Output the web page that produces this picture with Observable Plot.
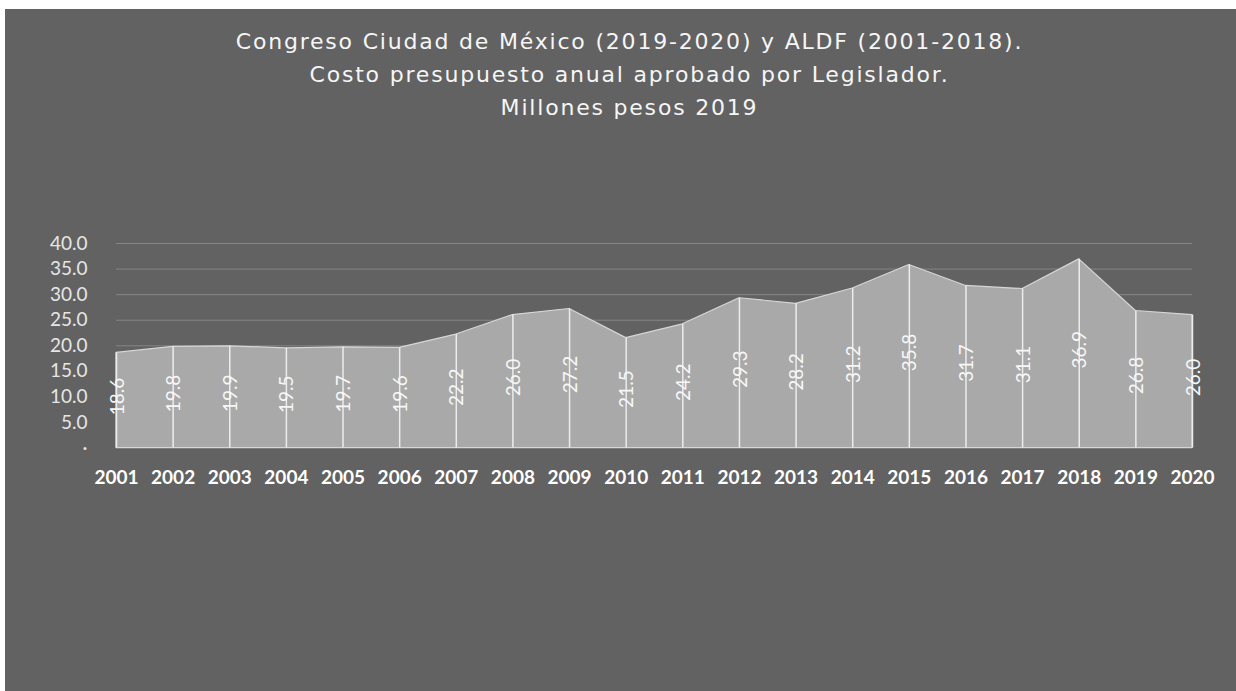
<!DOCTYPE html>
<html>
<head>
<meta charset="utf-8">
<script src="https://cdn.jsdelivr.net/npm/d3@7"></script>
<script src="https://cdn.jsdelivr.net/npm/@observablehq/plot@0.6"></script>
<style>
  html, body { margin: 0; padding: 0; background: #ffffff; width: 1236px; height: 691px; overflow: hidden; }
  #box { position: absolute; left: 5px; top: 9px; width: 1231px; height: 682px; background: #626262; }
  #title { position: absolute; left: 14px; top: 16px; width: 1221px; text-align: center;
    font-family: "DejaVu Sans", sans-serif; font-size: 22px; letter-spacing: 1.8px; line-height: 33px; color: #f6f6f6; font-weight: normal; }
  #chart { position: absolute; left: 0; top: 0; }
</style>
</head>
<body>
<div id="box">
  <div id="chart"></div>
  <div id="title">Congreso Ciudad de México (2019-2020) y ALDF (2001-2018).<br>Costo presupuesto anual aprobado por Legislador.<br>Millones pesos 2019</div>
</div>
<script>
const years = [2001,2002,2003,2004,2005,2006,2007,2008,2009,2010,2011,2012,2013,2014,2015,2016,2017,2018,2019,2020];
const values = [18.6,19.8,19.9,19.5,19.7,19.6,22.2,26.0,27.2,21.5,24.2,29.3,28.2,31.2,35.8,31.7,31.1,36.9,26.8,26.0];
const yTicks = [0,5,10,15,20,25,30,35,40];
const gridTicks = [5,10,15,20,25,30,35,40];

const data = years.map((year, i) => ({year, value: values[i]}));

const chart = Plot.plot({
  width: 1231,
  height: 682,
  marginLeft: 111,
  marginRight: 44,
  marginTop: 234,
  marginBottom: 243.4,
  style: {background: "transparent", fontFamily: "Lato, sans-serif"},
  x: {domain: [2001, 2020], axis: null},
  y: {domain: [0, 40], axis: null},
  marks: [
    Plot.gridY(gridTicks, {stroke: "#858585", strokeOpacity: 1, strokeWidth: 1}),
    Plot.areaY(data, {x: "year", y: "value", fill: "#a9a9a9", stroke: "#d6d6d6", strokeWidth: 1.2}),
    Plot.ruleX(data, {x: "year", y1: 0, y2: "value", stroke: "#ececec", strokeWidth: 1.5}),
    Plot.text(data, {x: "year", y: d => d.value / 2, text: d => d.value.toFixed(1), rotate: -90,
      fill: "#f7f7f7", fontSize: 19, dx: 1, dy: -4}),
    Plot.axisY({ticks: yTicks, tickSize: 0, tickPadding: 29, fontSize: 19, fill: "#e6e6e6", label: null,
      tickFormat: d => d === 0 ? "·" : d.toFixed(1)}),
    Plot.axisX({ticks: years, tickSize: 0, tickPadding: 22, fontSize: 19, fontWeight: "bold", label: null,
      fill: "#ffffff", tickFormat: d => String(d)})
  ]
});
document.getElementById("chart").appendChild(chart);
</script>
</body>
</html>
